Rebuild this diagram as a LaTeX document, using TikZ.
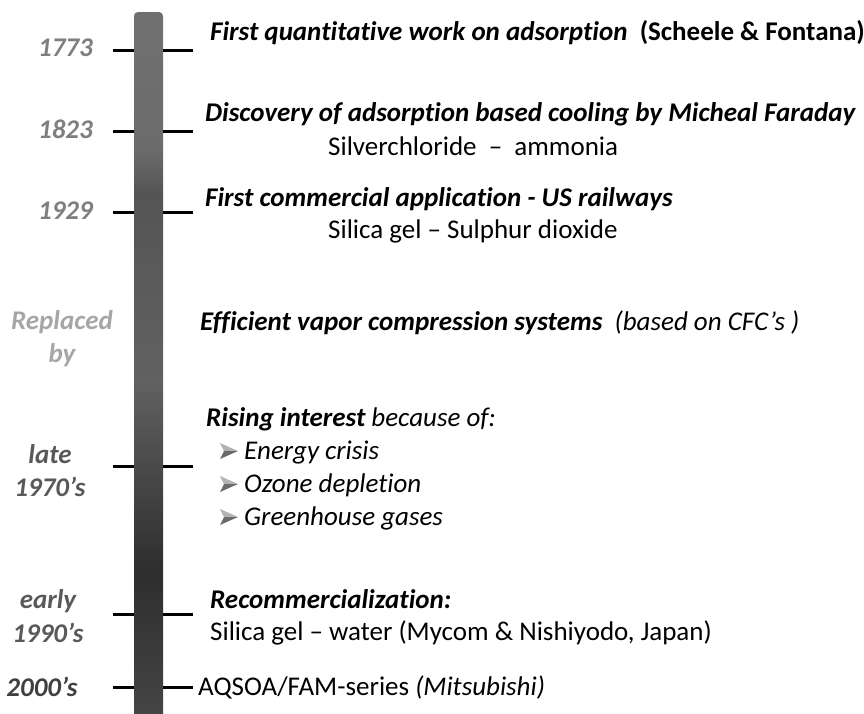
\documentclass[tikz,border=0pt]{standalone}
\usepackage{fontspec}
\setmainfont{Carlito}[RawFeature={-liga;-clig;-calt;-dlig}]
\usetikzlibrary{positioning}

\definecolor{yeargray}{HTML}{7F7F7F}
\definecolor{yeardark}{HTML}{595959}
\definecolor{replgray}{HTML}{A6A6A6}

\pgfdeclareverticalshading{barshade}{100bp}{%
  color(0bp)=(black!72); color(25bp)=(black!72);
  color(36bp)=(black!82); color(43.4bp)=(black!71);
  color(49.4bp)=(black!62); color(57.7bp)=(black!65);
  color(62.3bp)=(black!67); color(65.4bp)=(black!58);
  color(75bp)=(black!56); color(100bp)=(black!56)}

\begin{document}
\begin{tikzpicture}[
  x=1pt, y=-1pt,
  year/.style={
    font=\fontsize{27}{30}\selectfont\bfseries\itshape,
    text=yeargray,
    inner sep=0pt
  },
  event/.style={
    font=\fontsize{27}{30}\selectfont\bfseries\itshape,
    anchor=mid west,
    yshift=-6pt,
    inner sep=0pt
  },
  detail/.style={
    font=\fontsize{27}{30}\selectfont,
    anchor=mid west,
    yshift=-6pt,
    inner sep=0pt
  },
  tick/.style={
    line width=3pt
  }
]

\path[use as bounding box] (0,0) rectangle (864,713);

% time bar
\shade[shading=barshade, rounded corners=4pt] (134,12) rectangle (163,730);

\foreach \y in {50,131,212,466,614,687} {
  \draw[tick] (113,\y) -- (134,\y);
  \draw[tick] (163,\y) -- (193,\y);
}

% years
\node[year, anchor=mid east] (y1773) at (93,54) {1773};
\node[year, anchor=mid east] (y1823) at (93,136) {1823};
\node[year, anchor=mid east] (y1929) at (93,217) {1929};
\node[year, text=replgray] (repl) at (62,322) {Replaced};
\node[year, text=replgray] (by) at (62,355) {by};
\node[year, text=yeardark] (late) at (50,454) {late};
\node[year, text=yeardark] (y1970) at (50,487) {1970’s};
\node[year, text=yeardark] (early) at (48,601) {early};
\node[year, text=yeardark] (y1990) at (48,633) {1990’s};
\node[year, text=black!75] (y2000) at (42,687) {2000’s};

% events
\node[event] (quant) at (210,32)
  {First quantitative work on adsorption\ \ \upshape(Scheele \& Fontana)};
\node[event] (faraday) at (205,113)
  {Discovery of adsorption based cooling by Micheal Faraday};
\node[detail] (agcl) at (328,147) {Silverchloride \ – \ ammonia};
\node[event] (rail) at (205,198) {First commercial application - US railways};
\node[detail] (so2) at (328,230) {Silica gel – Sulphur dioxide};
\node[event] (vapor) at (200,322)
  {Efficient vapor compression systems\ \ {\mdseries(based on CFC’s )}};
\node[event] (rising) at (206,418)
  {Rising interest {\mdseries because of:}};
\node[detail, font=\fontsize{27}{30}\selectfont\itshape] (energy) at (244,451) {Energy crisis};
\node[detail, font=\fontsize{27}{30}\selectfont\itshape] (ozone) at (244,484) {Ozone depletion};
\node[detail, font=\fontsize{27}{30}\selectfont\itshape] (green) at (244,517) {Greenhouse gases};
\node[event] (recomm) at (210,600) {Recommercialization:};
\node[detail] (water) at (210,632) {Silica gel – water (Mycom \& Nishiyodo, Japan)};
\node[detail] (aqsoa) at (198,687) {AQSOA/FAM-series \textit{(Mitsubishi)}};

% bullets
\foreach \y in {451,484,517} {
  \fill[black!30] (220,\y-8) -- (238,\y) -- (224,\y) -- cycle;
  \fill[black!58] (220,\y+8) -- (238,\y) -- (224,\y) -- cycle;
}

\end{tikzpicture}
\end{document}
